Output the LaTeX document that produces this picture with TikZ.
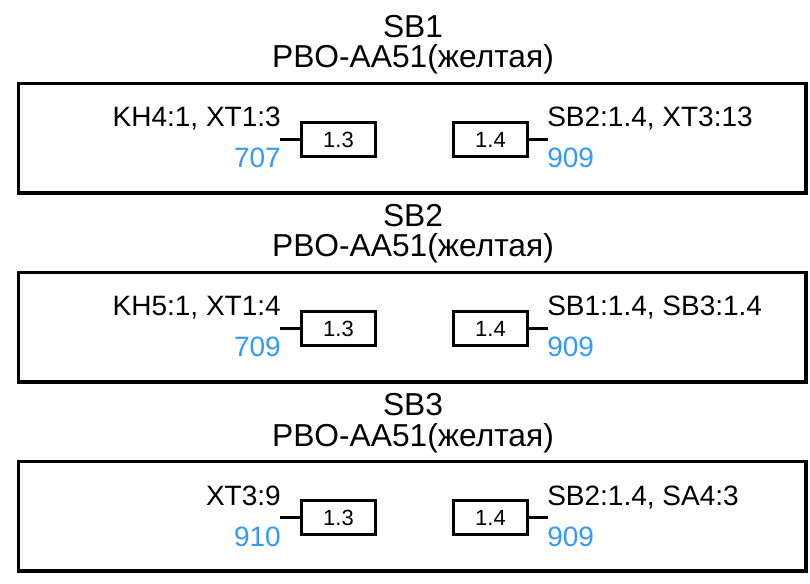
\documentclass[tikz,border=0pt]{standalone}
\usepackage{fontspec}
\setmainfont{Liberation Sans}
\definecolor{numblue}{RGB}{51,153,255}
\tikzset{
  frame/.style={draw,line width=2.4pt},
  pin/.style={draw,line width=2.2pt,minimum width=55pt,minimum height=26pt,inner sep=0pt,font=\fontsize{16.5}{19}\selectfont},
  stub/.style={line width=2.2pt},
  tag/.style={inner sep=0pt,font=\fontsize{21}{25}\selectfont},
  wire/.style={tag,text=numblue},
  head/.style={inner sep=0pt,anchor=base,font=\fontsize{23.8}{28}\selectfont}
}
\begin{document}
\begin{tikzpicture}[x=0.75pt,y=-0.75pt]
\useasboundingbox (0,0) rectangle (810,584);
\foreach \i/\lt/\ln/\rt in {1/{KH4:1, XT1:3}/707/{SB2:1.4, XT3:13},2/{KH5:1, XT1:4}/709/{SB1:1.4, SB3:1.4},3/{XT3:9}/910/{SB2:1.4, SA4:3}}{
  \begin{scope}[shift={(0,189*\i-189)}]
    \node[head](sb\i)at(413,38){SB\i};
    \node[head](type\i)at(413,68){PBO-AA51(желтая)};
    \draw[frame](18.5,83.5)rectangle(806,193);
    \node[pin](a\i)at(338.5,139.5){1.3};
    \node[pin](b\i)at(490.5,139.5){1.4};
    \draw[stub](a\i.west)--++(-20,0)coordinate(ae\i);
    \draw[stub](b\i.east)--++(19,0)coordinate(be\i);
    \node[tag,anchor=base east](al\i)at(281,127){\lt};
    \node[wire,anchor=base east](an\i)at(281,168){\ln};
    \node[tag,anchor=base west](bl\i)at(547,127){\rt};
    \node[wire,anchor=base west](bn\i)at(547,168){909};
  \end{scope}
}
\end{tikzpicture}
\end{document}
